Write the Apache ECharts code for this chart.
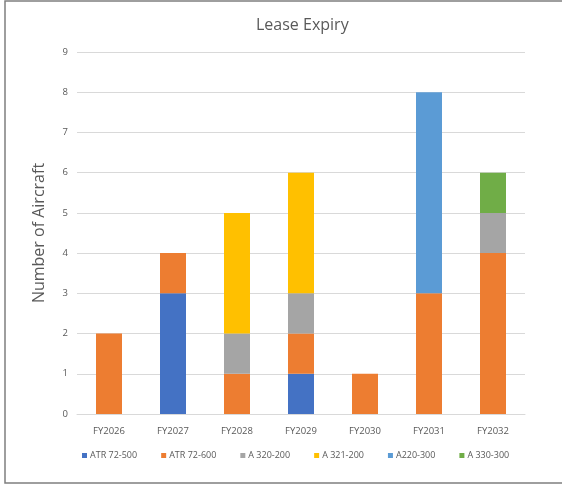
<!DOCTYPE html>
<html>
<head>
    <meta charset="utf-8" />
    <title>Lease Expiry</title>
    <script src="https://cdn.jsdelivr.net/npm/echarts@6/dist/echarts.min.js"></script>
    <style>
        html, body { margin: 0; padding: 0; background: #fff; }
        #main { width: 562px; height: 485px; }
    </style>
</head>
<body>
    <div id="main"></div>
    <script type="text/javascript">
        var years = ['FY2026', 'FY2027', 'FY2028', 'FY2029', 'FY2030', 'FY2031', 'FY2032'];
        var atr72500 = [0, 3, 0, 1, 0, 0, 0];
        var atr72600 = [2, 1, 1, 1, 1, 3, 4];
        var a320200 = [0, 0, 1, 1, 0, 0, 1];
        var a321200 = [0, 0, 3, 3, 0, 0, 0];
        var a220300 = [0, 0, 0, 0, 0, 5, 0];
        var a330300 = [0, 0, 0, 0, 0, 0, 1];

        var seriesDefs = [
            { name: 'ATR 72-500', data: atr72500, color: '#4472C4' },
            { name: 'ATR 72-600', data: atr72600, color: '#ED7D31' },
            { name: 'A 320-200', data: a320200, color: '#A5A5A5' },
            { name: 'A 321-200', data: a321200, color: '#FFC000' },
            { name: 'A220-300', data: a220300, color: '#5B9BD5' },
            { name: 'A 330-300', data: a330300, color: '#70AD47' }
        ];

        var font = '"Open Sans", "Noto Sans", sans-serif';
        var chart = echarts.init(document.getElementById('main'));
        var option = {
            animation: false,
            graphic: [{
                type: 'rect',
                shape: { x: 5, y: 1, width: 600, height: 482 },
                style: { fill: 'none', stroke: '#7f7f7f', lineWidth: 1.5 },
                silent: true
            }],
            title: {
                text: 'Lease Expiry',
                left: 251,
                top: 12,
                textStyle: { fontFamily: font, fontSize: 16, fontWeight: 'normal', color: '#595959' }
            },
            legend: {
                bottom: 20,
                left: 77,
                itemWidth: 5,
                itemHeight: 5,
                itemGap: 24,
                icon: 'rect',
                textStyle: { fontFamily: font, fontSize: 9, color: '#595959', padding: [0, 0, 0, -2] },
                data: seriesDefs.map(function (s) { return s.name; })
            },
            grid: { left: 77, right: 37, top: 52, bottom: 71 },
            xAxis: {
                type: 'category',
                data: years,
                axisLine: { lineStyle: { color: '#d9d9d9' } },
                axisTick: { show: false },
                axisLabel: { fontFamily: font, fontSize: 9.5, color: '#595959', margin: 12 }
            },
            yAxis: {
                type: 'value',
                min: 0,
                max: 9,
                interval: 1,
                name: 'Number of Aircraft',
                nameLocation: 'middle',
                nameGap: 30,
                nameTextStyle: { fontFamily: font, fontSize: 16, color: '#595959' },
                axisLine: { show: false },
                axisTick: { show: false },
                axisLabel: { fontFamily: font, fontSize: 9.5, color: '#595959', margin: 9 },
                splitLine: { lineStyle: { color: '#d9d9d9' } }
            },
            series: seriesDefs.map(function (s) {
                return {
                    name: s.name,
                    type: 'bar',
                    stack: 'total',
                    barWidth: 26,
                    itemStyle: { color: s.color },
                    data: s.data.map(function (v) { return v === 0 ? null : v; })
                };
            })
        };
        chart.setOption(option);
    </script>
</body>
</html>
